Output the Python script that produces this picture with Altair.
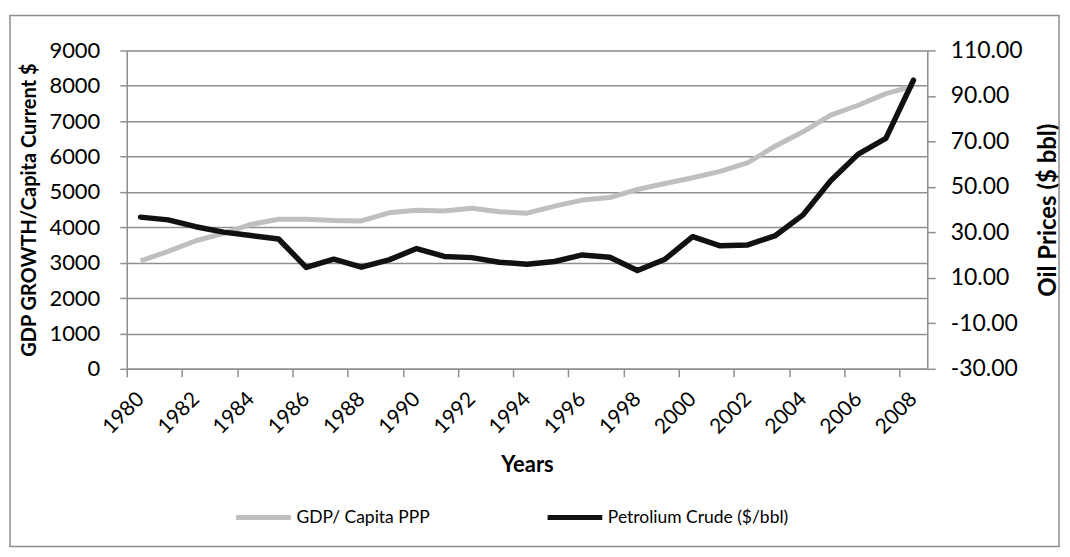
import altair as alt
import pandas as pd

years = list(range(1980, 2009))
gdp = [3050, 3320, 3620, 3830, 4080, 4230, 4230, 4190, 4180, 4410, 4480, 4460, 4540, 4440, 4400,
       4600, 4770, 4840, 5070, 5240, 5400, 5580, 5830, 6300, 6700, 7170, 7450, 7780, 7990]
oil = [36.7, 35.5, 32.5, 30.1, 28.6, 27.1, 14.6, 18.2, 14.7, 17.9, 22.9, 19.4, 18.9, 16.9, 16.0,
       17.2, 20.1, 19.1, 13.2, 18.2, 28.1, 24.1, 24.5, 28.6, 37.7, 52.7, 64.4, 71.3, 96.9]
series_names = ["GDP/ Capita PPP", "Petrolium Crude ($/bbl)"]
series_colors = ["#bfbfbf", "#111111"]
left_ticks = list(range(0, 9001, 1000))
right_ticks = list(range(-30, 111, 20))
x_label_years = list(range(1980, 2009, 2))

df_gdp = pd.DataFrame({"year": years, "value": gdp, "series": series_names[0]})
df_oil = pd.DataFrame({"year": years, "value": oil, "series": series_names[1]})

FONT = "Lato"
GRID = "#8f8f8f"
W, H = 802, 319
band = W / len(years)

xscale = alt.Scale(domain=[1979.5, 2008.5], nice=False, zero=False)
color = alt.Color(
    "series:N",
    scale=alt.Scale(domain=series_names, range=series_colors),
    legend=alt.Legend(
        title=None, orient="none", legendX=107, legendY=438, direction="horizontal",
        symbolType="stroke", symbolSize=3000, symbolStrokeWidth=5,
        labelFont=FONT, labelFontSize=17.5, labelColor="#000000", labelOffset=3, labelLimit=400,
        columnPadding=107,
    ),
)

xaxis = alt.Axis(
    values=x_label_years, format="d", labelAngle=315, labelAlign="right", labelBaseline="middle",
    labelFont=FONT, labelFontSize=21, labelColor="#000000", labelPadding=19,
    tickSize=8, tickColor=GRID, tickOffset=-band / 2, labelOffset=band / 2,
    domainColor=GRID, domainWidth=1.5, tickWidth=1.5, grid=False,
    title="Years", titleFont=FONT, titleFontSize=22, titleFontWeight="bold", titleColor="#000000",
    titleY=96, titleBaseline="middle",
)

gdp_line = alt.Chart(df_gdp).mark_line(strokeWidth=5, strokeJoin="round").encode(
    x=alt.X("year:Q", scale=xscale, axis=xaxis),
    y=alt.Y("value:Q", scale=alt.Scale(domain=[0, 9000], nice=False),
            axis=alt.Axis(values=left_ticks, format="d", grid=True, gridColor=GRID, gridWidth=1.5,
                          tickSize=7, tickColor=GRID, tickWidth=1.5, domainColor=GRID, domainWidth=1.5,
                          labelFont=FONT, labelFontSize=22, labelColor="#000000", labelPadding=20,
                          title="GDP GROWTH/Capita Current $", titleFont=FONT, titleFontSize=20,
                          titleFontWeight="bold", titleColor="#000000", titleAngle=270,
                          titleX=-97, titleY=H / 2, titleAlign="center", titleBaseline="middle")),
    color=color,
)

oil_line = alt.Chart(df_oil).mark_line(strokeWidth=5.5, strokeJoin="round", strokeCap="round").encode(
    x=alt.X("year:Q", scale=xscale),
    y=alt.Y("value:Q", scale=alt.Scale(domain=[-30, 110], nice=False),
            axis=alt.Axis(values=right_ticks, orient="right", grid=False,
                          labelExpr="datum.value < 0 ? '-' + format(-datum.value, '.2f') : format(datum.value, '.2f')",
                          tickSize=8, tickColor=GRID, tickWidth=1.5, domainColor=GRID, domainWidth=1.5,
                          labelFont=FONT, labelFontSize=23, labelColor="#000000", labelPadding=15,
                          title="Oil Prices ($ bbl)", titleFont=FONT, titleFontSize=24,
                          titleFontWeight="bold", titleColor="#000000", titleAngle=270,
                          titleX=121, titleY=H / 2, titleAlign="center", titleBaseline="middle")),
    color=color,
)

border = alt.Chart(pd.DataFrame({"k": [0]})).mark_rect(
    fill=None, stroke="#8c8c8c", strokeWidth=1.5
).encode(
    x=alt.value(-117), x2=alt.value(934), y=alt.value(-35), y2=alt.value(497)
)

chart = alt.layer(border, gdp_line, oil_line).resolve_scale(y="independent").properties(
    width=W, height=H, autosize="none",
    padding={"left": 119, "top": 42, "right": 135, "bottom": 182},
).configure_view(stroke=GRID, strokeWidth=1.5).configure(background="white")

chart.save("out.html", embed_options={"renderer": "svg", "actions": False})
